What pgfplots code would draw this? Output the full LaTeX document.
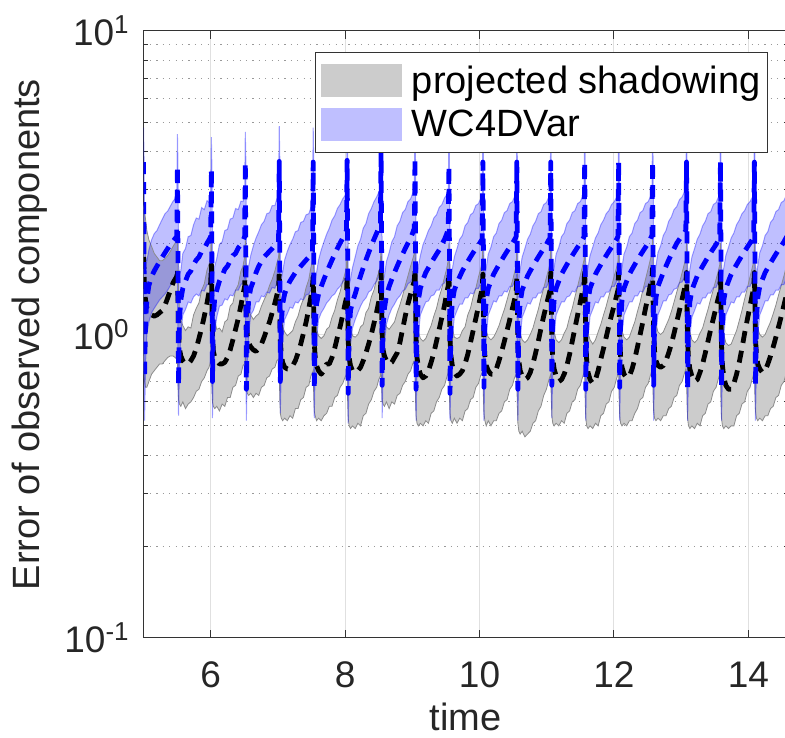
\documentclass[border=0pt]{standalone}
\usepackage{fontspec}
\setmainfont{Liberation Sans}
\usepackage{pgfplots}
\pgfplotsset{compat=1.18}
\usepackage{pgfplotstable}
\usepgfplotslibrary{fillbetween}

\pgfplotstableread{
t k b glo ghi blo bhi
5.000 1.80 3.70 0.85 2.60 1.50 4.80
5.008 1.60 1.80 0.75 2.65 0.85 3.80
5.016 1.40 0.72 0.70 2.55 0.52 2.00
5.030 1.30 1.10 0.67 2.40 0.80 1.80
5.050 1.22 1.30 0.67 2.20 1.00 1.75
5.080 1.18 1.45 0.70 2.05 1.10 1.90
5.120 1.16 1.55 0.74 1.95 1.18 2.05
5.160 1.15 1.62 0.76 1.85 1.22 2.15
5.200 1.16 1.68 0.78 1.80 1.26 2.20
5.240 1.18 1.74 0.80 1.75 1.30 2.30
5.280 1.20 1.80 0.80 1.75 1.33 2.40
5.320 1.25 1.86 0.82 1.78 1.36 2.50
5.360 1.32 1.92 0.84 1.82 1.40 2.55
5.400 1.40 1.98 0.85 1.88 1.45 2.65
5.440 1.48 2.03 0.85 1.95 1.48 2.75
5.470 1.52 2.07 0.84 2.00 1.50 2.80
5.495 1.55 2.10 0.83 2.05 1.55 2.85
5.505 1.65 3.58 0.80 2.00 1.60 4.57
5.513 1.30 1.75 0.68 1.70 0.85 3.60
5.521 1.00 0.68 0.61 1.38 0.54 1.70
5.535 0.90 1.12 0.59 1.20 0.80 1.58
5.555 0.85 1.30 0.58 1.12 1.00 1.62
5.585 0.82 1.42 0.60 1.07 1.16 1.85
5.625 0.80 1.50 0.57 1.03 1.21 1.92
5.665 0.80 1.58 0.59 1.06 1.28 2.10
5.705 0.82 1.62 0.60 1.05 1.27 2.12
5.745 0.85 1.70 0.62 1.16 1.33 2.30
5.785 0.90 1.76 0.65 1.22 1.36 2.42
5.825 0.97 1.80 0.66 1.27 1.34 2.40
5.865 1.05 1.88 0.70 1.40 1.40 2.62
5.905 1.15 1.92 0.72 1.47 1.39 2.58
5.945 1.27 2.00 0.76 1.63 1.46 2.76
5.975 1.38 2.05 0.78 1.70 1.46 2.72
6.000 1.48 2.10 0.82 1.82 1.54 2.88
6.010 1.70 3.50 0.78 2.05 1.58 4.47
6.018 1.30 1.70 0.67 1.66 0.86 3.50
6.026 1.00 0.70 0.60 1.34 0.53 1.72
6.040 0.88 1.15 0.58 1.17 0.82 1.52
6.060 0.84 1.32 0.57 1.11 1.02 1.68
6.090 0.82 1.40 0.58 1.04 1.14 1.78
6.130 0.80 1.50 0.56 1.05 1.24 1.98
6.170 0.80 1.56 0.59 1.02 1.25 2.02
6.210 0.81 1.64 0.58 1.10 1.31 2.20
6.250 0.84 1.68 0.62 1.12 1.30 2.22
6.290 0.89 1.75 0.62 1.24 1.35 2.40
6.330 0.96 1.82 0.67 1.27 1.34 2.42
6.370 1.04 1.85 0.68 1.40 1.40 2.60
6.410 1.13 1.93 0.73 1.46 1.40 2.58
6.450 1.25 1.98 0.74 1.62 1.46 2.75
6.480 1.35 2.04 0.79 1.68 1.48 2.74
6.505 1.44 2.10 0.80 1.80 1.53 2.86
6.515 1.65 3.69 0.85 2.05 1.60 4.65
6.523 1.35 1.80 0.74 1.72 0.84 3.70
6.531 1.08 0.66 0.66 1.45 0.52 1.72
6.545 0.99 1.10 0.64 1.28 0.80 1.58
6.565 0.94 1.30 0.63 1.20 1.00 1.68
6.595 0.91 1.42 0.64 1.16 1.16 1.82
6.635 0.89 1.50 0.62 1.12 1.20 1.96
6.675 0.88 1.60 0.64 1.15 1.28 2.08
6.715 0.90 1.68 0.63 1.17 1.28 2.18
6.755 0.93 1.74 0.67 1.24 1.34 2.30
6.795 0.98 1.80 0.68 1.30 1.33 2.36
6.835 1.04 1.84 0.72 1.36 1.38 2.50
6.875 1.10 1.88 0.73 1.45 1.37 2.52
6.915 1.18 1.92 0.77 1.52 1.43 2.66
6.955 1.27 1.97 0.78 1.62 1.42 2.66
6.985 1.35 2.00 0.82 1.72 1.48 2.80
7.010 1.42 2.02 0.83 1.80 1.50 2.82
7.020 1.60 3.72 0.75 2.00 1.60 4.86
7.028 1.25 1.80 0.62 1.62 0.86 3.80
7.036 0.96 0.70 0.55 1.30 0.55 1.70
7.050 0.86 1.08 0.53 1.14 0.78 1.52
7.070 0.81 1.26 0.52 1.06 0.98 1.60
7.100 0.78 1.36 0.53 1.02 1.12 1.76
7.140 0.77 1.44 0.52 0.99 1.17 1.88
7.180 0.77 1.50 0.54 1.01 1.23 1.98
7.220 0.79 1.55 0.53 1.03 1.22 2.06
7.260 0.82 1.60 0.57 1.10 1.28 2.18
7.300 0.87 1.64 0.57 1.15 1.27 2.20
7.340 0.93 1.68 0.61 1.24 1.31 2.34
7.380 1.01 1.72 0.62 1.31 1.30 2.36
7.420 1.10 1.76 0.67 1.43 1.35 2.48
7.460 1.22 1.80 0.68 1.52 1.36 2.50
7.490 1.33 1.84 0.73 1.66 1.40 2.62
7.515 1.45 1.88 0.75 1.75 1.42 2.66
7.525 1.55 3.70 0.76 1.95 1.60 4.80
7.533 1.22 1.80 0.63 1.60 0.84 3.70
7.541 0.94 0.66 0.56 1.30 0.53 1.68
7.555 0.84 1.08 0.54 1.12 0.80 1.50
7.575 0.79 1.26 0.52 1.04 0.97 1.60
7.605 0.76 1.36 0.53 0.99 1.12 1.76
7.645 0.74 1.44 0.52 0.97 1.18 1.90
7.685 0.76 1.52 0.54 0.99 1.22 2.02
7.725 0.80 1.60 0.55 1.04 1.27 2.14
7.765 0.80 1.68 0.58 1.06 1.30 2.24
7.805 0.84 1.76 0.58 1.14 1.34 2.38
7.845 0.90 1.84 0.62 1.20 1.36 2.46
7.885 0.98 1.92 0.63 1.30 1.41 2.60
7.925 1.06 2.00 0.67 1.38 1.44 2.68
7.965 1.16 2.08 0.69 1.50 1.49 2.80
7.995 1.25 2.14 0.72 1.58 1.52 2.86
8.020 1.32 2.20 0.74 1.66 1.56 2.92
8.030 1.58 3.75 0.72 1.95 1.62 4.80
8.038 1.24 1.85 0.60 1.60 0.82 3.70
8.046 0.95 0.64 0.53 1.28 0.51 1.66
8.060 0.84 1.02 0.50 1.12 0.76 1.46
8.080 0.79 1.20 0.49 1.05 0.92 1.52
8.110 0.76 1.28 0.50 0.99 1.05 1.66
8.150 0.75 1.36 0.49 0.98 1.12 1.80
8.190 0.76 1.46 0.51 1.00 1.18 1.96
8.230 0.78 1.56 0.50 1.06 1.24 2.06
8.270 0.82 1.66 0.54 1.08 1.29 2.24
8.310 0.87 1.76 0.55 1.18 1.32 2.32
8.350 0.93 1.86 0.59 1.22 1.38 2.50
8.390 1.00 1.96 0.61 1.33 1.40 2.60
8.430 1.09 2.06 0.65 1.40 1.46 2.74
8.470 1.19 2.16 0.67 1.53 1.50 2.84
8.500 1.28 2.24 0.71 1.60 1.55 2.94
8.525 1.36 2.30 0.73 1.70 1.58 3.00
8.535 1.62 3.99 0.80 2.00 1.65 4.90
8.543 1.28 1.90 0.68 1.66 0.85 3.80
8.551 1.00 0.68 0.61 1.36 0.53 1.70
8.565 0.89 1.06 0.59 1.19 0.78 1.50
8.585 0.85 1.22 0.58 1.10 0.94 1.56
8.615 0.82 1.34 0.60 1.06 1.08 1.74
8.655 0.80 1.44 0.57 1.04 1.16 1.86
8.695 0.81 1.52 0.60 1.07 1.22 2.02
8.735 0.84 1.60 0.59 1.10 1.26 2.10
8.775 0.87 1.68 0.63 1.18 1.31 2.28
8.815 0.94 1.76 0.64 1.25 1.34 2.36
8.855 1.04 1.84 0.68 1.34 1.39 2.52
8.895 1.15 1.92 0.70 1.45 1.41 2.58
8.935 1.26 2.00 0.74 1.56 1.47 2.74
8.975 1.36 2.08 0.76 1.68 1.49 2.80
9.005 1.44 2.16 0.80 1.77 1.54 2.92
9.030 1.50 2.24 0.82 1.85 1.57 2.96
9.040 1.65 3.80 0.74 2.05 1.62 4.80
9.048 1.28 1.85 0.61 1.66 0.84 3.70
9.056 0.96 0.66 0.54 1.30 0.52 1.70
9.070 0.84 1.10 0.51 1.12 0.80 1.55
9.090 0.78 1.30 0.50 1.02 1.00 1.68
9.120 0.74 1.42 0.51 0.97 1.16 1.82
9.160 0.72 1.52 0.50 0.95 1.22 1.98
9.200 0.73 1.60 0.52 0.97 1.28 2.08
9.240 0.76 1.66 0.51 1.02 1.29 2.20
9.280 0.81 1.72 0.55 1.07 1.34 2.28
9.320 0.87 1.78 0.56 1.15 1.35 2.42
9.360 0.95 1.84 0.60 1.22 1.40 2.48
9.400 1.04 1.90 0.62 1.33 1.40 2.62
9.440 1.14 1.98 0.66 1.42 1.46 2.68
9.480 1.25 2.06 0.68 1.55 1.48 2.82
9.510 1.36 2.14 0.72 1.64 1.53 2.88
9.535 1.45 2.22 0.75 1.76 1.56 2.96
9.545 1.60 3.58 0.74 2.00 1.58 4.60
9.553 1.25 1.75 0.62 1.62 0.84 3.60
9.561 0.96 0.64 0.55 1.30 0.52 1.66
9.575 0.85 1.08 0.52 1.13 0.78 1.50
9.595 0.79 1.28 0.51 1.05 0.98 1.64
9.625 0.75 1.40 0.53 0.98 1.14 1.80
9.665 0.73 1.48 0.51 0.97 1.20 1.92
9.705 0.74 1.55 0.53 0.98 1.26 2.06
9.745 0.76 1.62 0.52 1.03 1.26 2.12
9.785 0.80 1.68 0.56 1.06 1.32 2.28
9.825 0.86 1.74 0.57 1.16 1.32 2.34
9.865 0.94 1.80 0.61 1.22 1.37 2.48
9.905 1.03 1.86 0.62 1.33 1.36 2.52
9.945 1.13 1.92 0.67 1.42 1.42 2.66
9.985 1.24 1.97 0.69 1.55 1.42 2.70
10.015 1.34 2.02 0.73 1.64 1.47 2.80
10.040 1.42 2.06 0.75 1.74 1.50 2.84
10.050 1.58 3.70 0.74 1.98 1.60 4.70
10.058 1.24 1.80 0.62 1.62 0.85 3.70
10.066 0.95 0.67 0.55 1.28 0.52 1.70
10.080 0.85 1.12 0.52 1.12 0.80 1.56
10.100 0.79 1.30 0.50 1.03 1.00 1.66
10.130 0.76 1.42 0.52 0.98 1.16 1.84
10.170 0.74 1.50 0.50 0.96 1.22 1.94
10.210 0.74 1.58 0.52 0.98 1.29 2.10
10.250 0.77 1.64 0.52 1.02 1.28 2.16
10.290 0.82 1.70 0.55 1.07 1.34 2.32
10.330 0.88 1.76 0.56 1.14 1.34 2.38
10.370 0.95 1.82 0.60 1.21 1.39 2.52
10.410 1.03 1.88 0.61 1.30 1.38 2.56
10.450 1.12 1.94 0.66 1.40 1.44 2.70
10.490 1.22 2.00 0.68 1.50 1.44 2.74
10.520 1.30 2.05 0.72 1.60 1.49 2.84
10.545 1.36 2.10 0.74 1.68 1.52 2.88
10.555 1.55 3.70 0.70 1.95 1.58 4.70
10.563 1.22 1.80 0.58 1.58 0.84 3.70
10.571 0.93 0.66 0.51 1.26 0.52 1.68
10.585 0.82 1.10 0.48 1.10 0.78 1.52
10.605 0.76 1.28 0.47 1.01 0.98 1.64
10.635 0.73 1.40 0.48 0.96 1.14 1.80
10.675 0.71 1.48 0.46 0.94 1.20 1.92
10.715 0.72 1.56 0.47 0.96 1.27 2.06
10.755 0.75 1.62 0.48 1.00 1.26 2.14
10.795 0.80 1.68 0.51 1.05 1.32 2.28
10.835 0.87 1.74 0.52 1.13 1.32 2.36
10.875 0.95 1.80 0.56 1.21 1.37 2.50
10.915 1.05 1.86 0.58 1.32 1.37 2.54
10.955 1.15 1.92 0.63 1.42 1.43 2.68
10.995 1.25 1.98 0.66 1.54 1.43 2.72
11.025 1.33 2.04 0.70 1.63 1.48 2.82
11.050 1.40 2.08 0.73 1.72 1.51 2.86
11.060 1.60 3.70 0.74 2.00 1.60 4.70
11.068 1.25 1.80 0.61 1.62 0.85 3.70
11.076 0.95 0.68 0.54 1.28 0.53 1.70
11.090 0.83 1.12 0.51 1.10 0.80 1.56
11.110 0.77 1.30 0.50 1.02 1.00 1.66
11.140 0.73 1.42 0.51 0.96 1.16 1.84
11.180 0.70 1.50 0.50 0.94 1.22 1.94
11.220 0.71 1.58 0.52 0.96 1.28 2.10
11.260 0.74 1.64 0.51 1.01 1.28 2.16
11.300 0.79 1.70 0.55 1.05 1.33 2.32
11.340 0.86 1.76 0.56 1.14 1.34 2.38
11.380 0.95 1.82 0.60 1.22 1.39 2.52
11.420 1.05 1.88 0.61 1.33 1.38 2.56
11.460 1.16 1.94 0.66 1.44 1.44 2.70
11.500 1.28 2.00 0.68 1.57 1.44 2.74
11.530 1.38 2.05 0.72 1.67 1.49 2.84
11.555 1.45 2.10 0.75 1.76 1.52 2.88
11.565 1.65 3.70 0.73 2.00 1.58 4.70
11.573 1.27 1.80 0.60 1.62 0.84 3.70
11.581 0.95 0.66 0.53 1.28 0.52 1.68
11.595 0.82 1.10 0.50 1.10 0.78 1.54
11.615 0.75 1.30 0.49 1.01 0.98 1.66
11.645 0.71 1.42 0.50 0.96 1.15 1.82
11.685 0.69 1.50 0.49 0.93 1.21 1.94
11.725 0.71 1.58 0.51 0.96 1.28 2.08
11.765 0.76 1.64 0.50 1.02 1.27 2.16
11.805 0.83 1.70 0.54 1.08 1.33 2.30
11.845 0.90 1.76 0.55 1.16 1.33 2.38
11.885 0.98 1.82 0.59 1.24 1.38 2.50
11.925 1.07 1.88 0.60 1.34 1.38 2.56
11.965 1.16 1.94 0.65 1.44 1.44 2.68
12.005 1.25 2.00 0.67 1.56 1.44 2.74
12.035 1.33 2.05 0.71 1.65 1.49 2.82
12.060 1.40 2.10 0.74 1.74 1.52 2.88
12.070 1.60 3.70 0.74 2.05 1.60 4.70
12.078 1.25 1.80 0.61 1.64 0.85 3.70
12.086 0.96 0.67 0.54 1.30 0.52 1.70
12.100 0.84 1.10 0.51 1.12 0.80 1.55
12.120 0.78 1.30 0.50 1.03 1.00 1.66
12.150 0.74 1.42 0.51 0.98 1.16 1.84
12.190 0.72 1.50 0.50 0.96 1.22 1.94
12.230 0.73 1.58 0.52 0.98 1.28 2.10
12.270 0.77 1.64 0.52 1.04 1.28 2.16
12.310 0.83 1.70 0.55 1.10 1.34 2.32
12.350 0.91 1.76 0.57 1.19 1.34 2.38
12.390 1.00 1.82 0.61 1.28 1.39 2.52
12.430 1.10 1.88 0.62 1.40 1.38 2.56
12.470 1.22 1.94 0.67 1.52 1.44 2.70
12.510 1.34 2.00 0.69 1.65 1.44 2.74
12.540 1.45 2.06 0.73 1.76 1.50 2.84
12.565 1.52 2.12 0.76 1.85 1.53 2.90
12.575 1.65 3.70 0.78 2.05 1.60 4.70
12.583 1.30 1.80 0.64 1.66 0.85 3.70
12.591 1.00 0.68 0.56 1.34 0.52 1.70
12.605 0.88 1.12 0.53 1.16 0.80 1.56
12.625 0.82 1.32 0.52 1.08 1.00 1.68
12.655 0.79 1.44 0.53 1.02 1.16 1.86
12.695 0.78 1.52 0.52 1.00 1.22 1.96
12.735 0.79 1.60 0.54 1.02 1.29 2.12
12.775 0.82 1.68 0.54 1.07 1.29 2.20
12.815 0.87 1.76 0.57 1.12 1.35 2.36
12.855 0.93 1.84 0.58 1.19 1.36 2.44
12.895 1.01 1.92 0.62 1.28 1.41 2.58
12.935 1.10 2.00 0.63 1.38 1.42 2.64
12.975 1.20 2.06 0.68 1.48 1.48 2.78
13.015 1.31 2.12 0.70 1.60 1.49 2.84
13.045 1.40 2.16 0.74 1.70 1.54 2.94
13.070 1.46 2.20 0.77 1.78 1.57 2.98
13.080 1.60 3.70 0.74 2.00 1.60 4.70
13.088 1.25 1.80 0.60 1.62 0.85 3.70
13.096 0.95 0.66 0.53 1.28 0.52 1.68
13.110 0.83 1.08 0.50 1.10 0.78 1.52
13.130 0.77 1.28 0.49 1.02 0.98 1.64
13.160 0.73 1.40 0.50 0.96 1.14 1.80
13.200 0.70 1.48 0.49 0.94 1.20 1.92
13.240 0.71 1.56 0.51 0.96 1.27 2.06
13.280 0.75 1.62 0.50 1.01 1.26 2.14
13.320 0.80 1.68 0.54 1.05 1.32 2.28
13.360 0.87 1.74 0.55 1.13 1.32 2.36
13.400 0.95 1.80 0.59 1.21 1.37 2.50
13.440 1.04 1.86 0.60 1.31 1.37 2.54
13.480 1.13 1.92 0.65 1.41 1.43 2.68
13.520 1.23 1.98 0.67 1.52 1.43 2.72
13.550 1.31 2.04 0.71 1.61 1.48 2.82
13.575 1.37 2.08 0.74 1.70 1.51 2.86
13.585 1.60 3.70 0.74 2.00 1.60 4.70
13.593 1.24 1.80 0.60 1.60 0.85 3.70
13.601 0.92 0.67 0.53 1.26 0.52 1.70
13.615 0.79 1.10 0.50 1.08 0.80 1.54
13.635 0.72 1.30 0.49 1.00 1.00 1.66
13.665 0.68 1.42 0.50 0.94 1.16 1.82
13.705 0.66 1.50 0.49 0.92 1.22 1.94
13.745 0.66 1.58 0.50 0.93 1.28 2.08
13.785 0.69 1.64 0.50 0.98 1.27 2.16
13.825 0.74 1.70 0.54 1.03 1.33 2.30
13.865 0.81 1.76 0.55 1.11 1.33 2.38
13.905 0.90 1.82 0.59 1.20 1.38 2.50
13.945 1.01 1.88 0.60 1.31 1.38 2.56
13.985 1.12 1.94 0.65 1.42 1.44 2.68
14.025 1.24 2.00 0.67 1.55 1.44 2.74
14.055 1.34 2.05 0.71 1.65 1.49 2.82
14.080 1.42 2.10 0.74 1.74 1.52 2.88
14.090 1.60 3.70 0.77 2.00 1.60 4.70
14.098 1.26 1.80 0.63 1.62 0.85 3.70
14.106 0.97 0.68 0.56 1.30 0.52 1.70
14.120 0.86 1.12 0.53 1.13 0.80 1.56
14.140 0.80 1.32 0.52 1.05 1.00 1.68
14.170 0.77 1.44 0.53 1.00 1.16 1.86
14.210 0.75 1.52 0.52 0.98 1.22 1.96
14.250 0.76 1.60 0.54 1.00 1.29 2.12
14.290 0.80 1.66 0.54 1.05 1.29 2.18
14.330 0.85 1.72 0.57 1.10 1.35 2.34
14.370 0.91 1.78 0.58 1.17 1.35 2.40
14.410 0.98 1.84 0.62 1.25 1.40 2.54
14.450 1.06 1.90 0.63 1.35 1.40 2.58
14.490 1.15 1.96 0.68 1.45 1.46 2.72
14.530 1.25 2.02 0.70 1.56 1.46 2.76
14.560 1.33 2.08 0.74 1.66 1.52 2.86
14.585 1.40 2.12 0.77 1.75 1.55 2.90
}\data

\begin{document}
\begin{tikzpicture}
\begin{axis}[
  at={(0pt,0pt)}, anchor=south west,
  scale only axis, width=322pt, height=303.5pt,
  xmin=5, xmax=14.583, ymin=0.1, ymax=10,
  ymode=log,
  xtick={6,8,10,12,14},
  ytick={0.1,1,10},
  yticklabels={10\textsuperscript{-1},10\textsuperscript{0},10\textsuperscript{1}},
  minor x tick num=0,
  /pgf/number format/assume math mode=true,
  tick label style={font=\fontsize{18.5}{22}\selectfont, text=black!85},
  label style={font=\fontsize{19}{23}\selectfont, text=black!85},
  xticklabel style={anchor=center, yshift=-18.5pt},
  yticklabel style={anchor=east, inner sep=0pt, xshift=-6.75pt},
  xlabel={time},
  ylabel={Error of observed components},
  xlabel style={at={(axis description cs:0.5,0)}, anchor=center, yshift=-39.5pt},
  ylabel style={at={(axis description cs:0,0.5)}, anchor=center, yshift=56.75pt},
  xmajorgrids, ymajorgrids, yminorgrids,
  major grid style={black!12, line width=0.5pt},
  minor grid style={black!40, line width=0.5pt, dash pattern=on 0.6pt off 2.6pt},
  axis line style={black!80, line width=0.5pt},
  tick style={black!80, line width=0.5pt},
  major tick length=4pt, minor tick length=2pt,
  legend style={at={(axis description cs:0.9697,0.9654)}, anchor=north east,
    draw=black!80, line width=0.5pt, fill=white,
    font=\fontsize{19}{23}\selectfont,
    inner xsep=2.5pt, inner ysep=5.5pt, row sep=5pt, column sep=4pt,
    cells={anchor=west}, nodes={inner sep=1pt}},
]
% named boundary paths
\addplot[name path=ghi, draw=none, forget plot] table[x=t, y=ghi]{\data};
\addplot[name path=glo, draw=none, forget plot] table[x=t, y=glo]{\data};
\addplot[name path=bhi, draw=none, forget plot] table[x=t, y=bhi]{\data};
\addplot[name path=blo, draw=none, forget plot] table[x=t, y=blo]{\data};
% gray band
\addplot[fill=black!20, draw=none, forget plot] fill between[of=ghi and glo];
\addplot[draw=black!45, line width=0.4pt, forget plot] table[x=t, y=ghi]{\data};
\addplot[draw=black!45, line width=0.4pt, forget plot] table[x=t, y=glo]{\data};
% blue band
\addplot[fill=blue, fill opacity=0.25, draw=none, forget plot] fill between[of=bhi and blo];
\addplot[draw=blue, draw opacity=0.35, line width=0.5pt, forget plot] table[x=t, y=bhi]{\data};
\addplot[draw=blue, draw opacity=0.35, line width=0.5pt, forget plot] table[x=t, y=blo]{\data};
% mean lines
\addplot[black, line width=2.4pt, dash pattern=on 6pt off 4pt, line join=round, forget plot] table[x=t, y=k]{\data};
\addplot[blue, line width=2.4pt, dash pattern=on 6pt off 4pt, line join=round, forget plot] table[x=t, y=b]{\data};
% legend
\addlegendimage{legend image code/.code={\fill[black!20] (0pt,-8pt) rectangle (40pt,8pt);}}
\addlegendentry{projected shadowing}
\addlegendimage{legend image code/.code={\fill[blue!25] (0pt,-8pt) rectangle (40pt,8pt);}}
\addlegendentry{WC4DVar}
\end{axis}
\pgfresetboundingbox
\useasboundingbox (-71.75pt,-49.5pt) rectangle (320.75pt,319pt);
\end{tikzpicture}
\end{document}
